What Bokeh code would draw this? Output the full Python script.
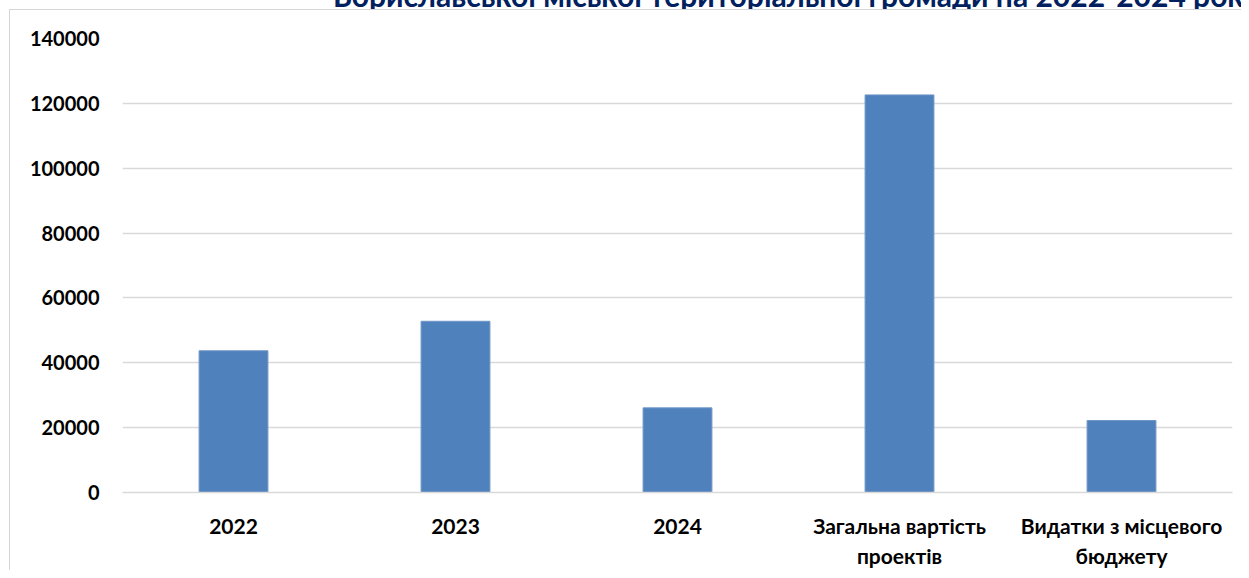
from bokeh.plotting import figure
from bokeh.models import Div, FactorRange, Range1d, FixedTicker, NumeralTickFormatter
from bokeh.layouts import column, row
from bokeh.embed import file_html
from bokeh.resources import INLINE

title_text = "Бориславської міської територіальної громади на 2022-2024 роки"
categories = ["2022", "2023", "2024", "Загальна вартість\nпроектів", "Видатки з місцевого\nбюджету"]
values = [43700, 52800, 26100, 122600, 22200]
y_ticks = [0, 20000, 40000, 60000, 80000, 100000, 120000, 140000]

FONT = "Lato"
FRAME = "#d6d6d6"

p = figure(
    x_range=FactorRange(*categories, range_padding=0),
    y_range=Range1d(0, 140000),
    width=1231, height=560,
    output_backend="svg", toolbar_location=None,
    min_border_left=112, min_border_right=9,
    min_border_top=28, min_border_bottom=76,
)

p.vbar(x=categories, top=values, width=0.31,
       fill_color="#4F81BD", line_color="#7096C6", line_width=1)

p.outline_line_color = None
p.xgrid.visible = False
p.ygrid.grid_line_color = "#d9d9d9"
p.ygrid.grid_line_width = 1.3

p.yaxis.ticker = FixedTicker(ticks=y_ticks)
p.yaxis.formatter = NumeralTickFormatter(format="0")
for ax in (p.xaxis, p.yaxis):
    ax.major_tick_line_color = None
    ax.minor_tick_line_color = None
    ax.major_tick_out = 0
    ax.major_tick_in = 0
    ax.major_label_text_font = FONT
    ax.major_label_text_font_style = "bold"
    ax.major_label_text_font_size = "20px"
    ax.major_label_text_color = "#000000"
p.xaxis.major_label_text_font_size = "21px"
p.yaxis.axis_line_color = None
p.xaxis.axis_line_color = "#d9d9d9"
p.xaxis.axis_line_width = 1.3
p.yaxis.major_label_standoff = 23
p.xaxis.major_label_standoff = 20

title = Div(
    text=title_text,
    width=908, height=30,
    margin=(-20, 0, -10, 333),
    styles={
        "font-family": FONT,
        "font-weight": "bold",
        "font-size": "30px",
        "line-height": "30px",
        "color": "#002060",
        "white-space": "nowrap",
        "overflow": "hidden",
    },
)

frame_top = Div(text="", width=1232, height=1, margin=(9, 0, 0, 9),
                styles={"background-color": FRAME})
frame_left = Div(text="", width=1, height=560, margin=(0, 0, 0, 9),
                 styles={"background-color": FRAME})

layout = column(title, frame_top, row(frame_left, p))
open("out.html", "w").write(file_html(layout, INLINE))
